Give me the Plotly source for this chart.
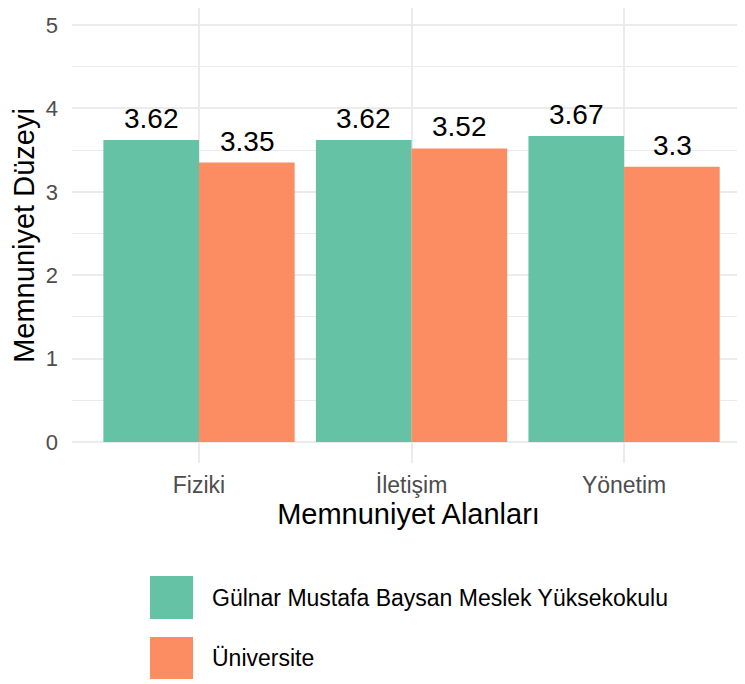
import plotly.graph_objects as go

# Memnuniyet alanları ve ortalama puanlar
categories = ["Fiziki", "İletişim", "Yönetim"]
series_names = ["Gülnar Mustafa Baysan Meslek Yüksekokulu", "Üniversite"]
myo_values = [3.62, 3.62, 3.67]
uni_values = [3.35, 3.52, 3.30]
y_ticks = [0, 1, 2, 3, 4, 5]

GREEN = "#66C2A5"
ORANGE = "#FC8D62"
GRID = "#EBEBEB"
TICK = "#4D4D4D"
FONT = "Liberation Sans, Arial, sans-serif"

fig = go.Figure()
for name, vals, color, shift in [
    (series_names[0], myo_values, GREEN, -48),
    (series_names[1], uni_values, ORANGE, 48),
]:
    fig.add_trace(go.Bar(
        x=categories, y=vals, name=name, marker=dict(color=color, line_width=0),
        showlegend=False,
    ))
    # value labels above each bar
    for c, v in zip(categories, vals):
        fig.add_annotation(
            x=c, y=v, text=f"{v:g}", showarrow=False, xshift=shift,
            yanchor="bottom", yshift=4, font=dict(size=28, color="black", family=FONT),
        )

# hand-drawn legend with large keys (ggplot style)
legend_rows = [(series_names[0], GREEN, -0.2484, -0.3429), (series_names[1], ORANGE, -0.3824, -0.4747)]
for name, color, y1, y0 in legend_rows:
    fig.add_shape(type="rect", xref="paper", yref="paper",
                  x0=0.1159, x1=0.1798, y0=y0, y1=y1,
                  fillcolor=color, line_width=0)
    fig.add_annotation(xref="paper", yref="paper", x=0.2051, y=(y0 + y1) / 2,
                       text=name, showarrow=False, xanchor="left", yanchor="middle",
                       font=dict(size=23, color="black", family=FONT))

fig.update_layout(
    width=745, height=684,
    barmode="group", bargap=0.1, bargroupgap=0,
    paper_bgcolor="white", plot_bgcolor="white",
    font=dict(family=FONT, color="black"),
    # page body has an 8px margin, so the figure is offset by 8px
    margin=dict(l=64, r=8, t=0, b=229, autoexpand=False),
    xaxis=dict(
        type="category", range=[-0.5976, 2.569],
        showgrid=True, gridcolor=GRID, gridwidth=1.5,
        showline=False, zeroline=False, ticks="",
        tickfont=dict(size=23, color=TICK), ticklabelstandoff=6,
        title=dict(text="Memnuniyet Alanları", font=dict(size=29, color="black"), standoff=4),
    ),
    yaxis=dict(
        range=[-0.252, 5.204], tickvals=y_ticks,
        showgrid=True, gridcolor=GRID, gridwidth=1.5,
        minor=dict(dtick=0.5, tick0=0, showgrid=True, gridcolor=GRID, gridwidth=1),
        showline=False, zeroline=False, ticks="",
        tickfont=dict(size=22, color=TICK), ticklabelstandoff=13,
        title=dict(text="Memnuniyet Düzeyi", font=dict(size=29, color="black"), standoff=6),
    ),
)

fig.write_html("out.html")
